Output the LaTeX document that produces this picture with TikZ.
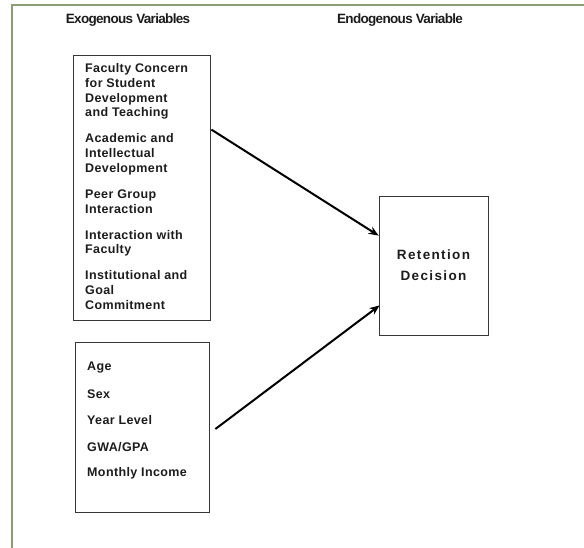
\documentclass[tikz,border=0pt]{standalone}
\usepackage{fontspec}
\setmainfont{Liberation Sans}
\newfontfamily\titlefont[LetterSpace=-5]{Liberation Sans}
\newfontfamily\itemfont[LetterSpace=3]{Liberation Sans}
\newfontfamily\decfont[LetterSpace=10]{Liberation Sans}
\usepackage{tikz}
\usetikzlibrary{calc,positioning,arrows.meta}
\definecolor{framegreen}{RGB}{138,158,116}
\definecolor{boxgray}{RGB}{55,55,55}
\definecolor{inkblack}{RGB}{28,28,28}
\tikzset{
    frame/.style={draw=framegreen, line width=1.2pt},
    heading/.style={
        text=inkblack,
        font={\titlefont\bfseries\fontsize{13.5pt}{16pt}\selectfont},
        inner sep=0pt
    },
    varbox/.style={
        rectangle,
        draw=boxgray, thick,
        inner sep=0pt
    },
    entry/.style={
        text=inkblack,
        font={\itemfont\bfseries\fontsize{12.5pt}{14.7pt}\selectfont},
        align=left,
        inner sep=0pt
    },
    decision/.style={
        varbox,
        text=inkblack,
        font={\decfont\bfseries\fontsize{13.5pt}{21pt}\selectfont},
        align=center
    },
    link/.style={draw=black, line width=2pt, -{Stealth[length=10pt, width=8pt]}},
}
\begin{document}
\begin{tikzpicture}[x=1pt, y=-1pt]

\useasboundingbox (0,0) rectangle (584,548);
\draw [frame] (12,548) -- (12,5) -- (584,5);

\node [heading] (exo) at (128,20) {Exogenous Variables};
\node [heading] (endo) at (400,20) {Endogenous Variable};

% boxes
\node [varbox, minimum width=137pt, minimum height=265pt] (inst) at (141.5,187.5) {};
\node [varbox, minimum width=134pt, minimum height=170pt] (pers) at (142,427) {};
\node [decision, minimum width=109pt, minimum height=139pt] (ret) at (433.5,265.5)
  {Retention\\Decision};

\node [entry, anchor=west] (inst-text) at (85,186.5)
  {Faculty Concern\\for Student\\Development\\and Teaching\\[11.3pt]
   Academic and\\Intellectual\\Development\\[11.3pt]
   Peer Group\\Interaction\\[11.3pt]
   Interaction with\\Faculty\\[11.3pt]
   Institutional and\\Goal\\Commitment};

\foreach \l [count=\i] in {Age, Sex, Year Level, GWA/GPA, Monthly Income}
  \node [entry, anchor=west] (pers-\i) at (87, 341.75+\i*26.25) {\l};

\draw [link] ($(inst.north east)+(1,75)$) -- ($(ret.north west)+(0,40)$);
\draw [link] ($(pers.east)+(6,2)$) -- ($(ret.south west)+(1,-30)$);

\end{tikzpicture}
\end{document}
